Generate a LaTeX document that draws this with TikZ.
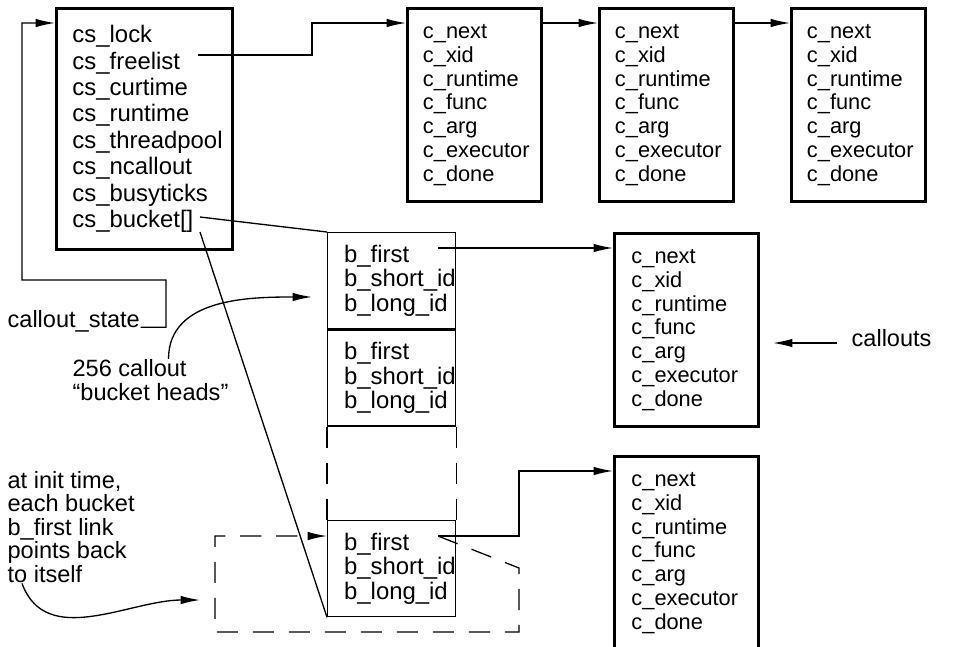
\documentclass[tikz,border=0pt]{standalone}
\usepackage{fontspec}
\setmainfont{Liberation Sans}
\usetikzlibrary{positioning,arrows.meta}

\tikzset{
  cbox/.style={draw, line width=1.7pt, anchor=north west, align=left, inner xsep=0.31cm, text width=#1, minimum height=3.86cm, font=\fontsize{12.4}{13.5}\selectfont},
  cbox/.default=2.06cm,
  bucket/.style={draw, anchor=north west, align=left, inner xsep=0.33cm, text width=1.9cm, minimum height=1.92cm, font=\fontsize{13.6}{13.8}\selectfont},
  note/.style={align=left, inner sep=0pt, font=\fontsize{13.4}{13.4}\selectfont},
  gapline/.style={dash pattern=on 12pt off 8.5pt},
}

\begin{document}
\begin{tikzpicture}[x=0.02cm, y=-0.02cm, line width=0.75pt, >={Latex[length=11pt,width=4.8pt]}]
    \useasboundingbox (0,0) rectangle (967,646);
    \clip (0,0) rectangle (967,646);

    % callout_state structure
    \node[draw, line width=1.7pt, anchor=north west, align=left, inner xsep=0.32cm, text width=2.88cm, minimum height=4.82cm, font=\fontsize{13.6}{15}\selectfont] (state) at (55,7)
        {cs\_lock\\cs\_freelist\\cs\_curtime\\cs\_runtime\\cs\_threadpool\\cs\_ncallout\\cs\_busyticks\\cs\_bucket[]};

    % free list
    \node[cbox] (c1) at (406,7) {c\_next\\c\_xid\\c\_runtime\\c\_func\\c\_arg\\c\_executor\\c\_done};
    \node[cbox] (c2) at (598,7) {c\_next\\c\_xid\\c\_runtime\\c\_func\\c\_arg\\c\_executor\\c\_done};
    \node[cbox] (c3) at (790,7) {c\_next\\c\_xid\\c\_runtime\\c\_func\\c\_arg\\c\_executor\\c\_done};

    % bucket heads
    \node[bucket] (b1) at (327,232) {b\_first\\b\_short\_id\\b\_long\_id};
    \node[bucket, below=0pt of b1] (b2) {b\_first\\b\_short\_id\\b\_long\_id};
    \node[bucket] (b3) at (327,520) {b\_first\\b\_short\_id\\b\_long\_id};

    % callouts hanging off the buckets
    \node[cbox=2.2cm, inner xsep=0.34cm] (c4) at (613,232) {c\_next\\c\_xid\\c\_runtime\\c\_func\\c\_arg\\c\_executor\\c\_done};
    \node[cbox=2.2cm, inner xsep=0.34cm] (c5) at (613,455) {c\_next\\c\_xid\\c\_runtime\\c\_func\\c\_arg\\c\_executor\\c\_done};

    % labels
    \node[note, anchor=west] (lblstate) at (7,321) {callout\_state};
    \node[note, anchor=west] (heads) at (72,380) {256 callout\\“bucket heads”};
    \node[note, anchor=west] (initnote) at (7,527) {at init time,\\each bucket\\b\_first link\\points back\\to itself};
    \node[note, anchor=west, inner xsep=0.28cm] (callouts) at (837,338) {callouts};

    \coordinate (freelist) at (198,55);
    \coordinate (bkt) at (200,217);
    \coordinate (bktend) at (200,232);
    \coordinate (first1) at (438,248);
    \coordinate (first3) at (438,536);
    \coordinate (headsptr) at (312,297);
    \coordinate (initptr) at (200,600);
    \coordinate (calloutsptr) at (773,343);

    \draw[->] (lblstate.base east) -| (166,280) -| (22,23) -- ([yshift=-0.32cm]state.north west);
    \draw[->] (freelist) -- (312,55) |- ([yshift=-0.32cm]c1.north west);
    \draw[->] ([yshift=-0.32cm]c1.north east) -- ([yshift=-0.32cm]c2.north west);
    \draw[->] ([yshift=-0.32cm]c2.north east) -- ([yshift=-0.32cm]c3.north west);

    \draw (bkt) -- (b1.north west);
    \draw (bktend) -- (b3.south west);
    \draw[gapline] (b2.south west) -- (b3.north west);
    \draw[gapline] (b2.south east) -- (b3.north east);

    \draw[->] (first1) -- (c4.west |- first1);
    \draw[->] (first3) -- (519,536) |- ([yshift=-0.32cm]c5.north west);
    \draw[gapline, ->] (first3) -- (519,568) -- (519,632) -- (215,632) -- (215,536) -- (b3.west |- first3);

    \draw[->] ([xshift=0.36cm]heads.north) to[out=90, in=180] (headsptr);
    \draw[->] ([xshift=0.3cm]initnote.south west) to[out=-70, in=180] (initptr);
    \draw[<-] (calloutsptr) -- (calloutsptr -| callouts.west);
\end{tikzpicture}
\end{document}
